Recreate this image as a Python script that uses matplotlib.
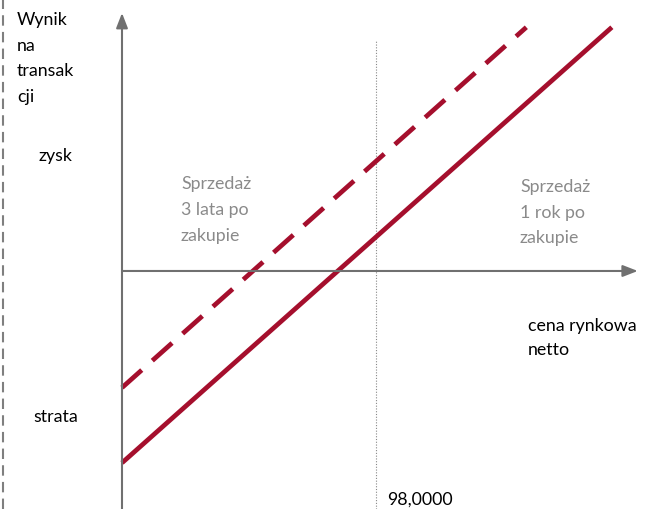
import matplotlib.pyplot as plt
from matplotlib.lines import Line2D

plt.rcParams['font.family'] = ['Lato', 'DejaVu Sans']

# schematic data (price vs. transaction result)
price_1y = [0, 189]
result_1y = [-74, 94]
price_3y = [0, 156]
result_3y = [-45, 94]
breakeven_price = 98

y_label = "Wynik\nna\ntransak\ncji"
x_label = "cena rynkowa\nnetto"
label_3y = "Sprzedaż\n3 lata po\nzakupie"
label_1y = "Sprzedaż\n1 rok po\nzakupie"
price_label = "98,0000"

red = "#a50f2d"
axis_gray = "#707070"
text_gray = "#8a8a8a"

fig = plt.figure(figsize=(6.61, 5.10), dpi=100)
ax = fig.add_axes([0, 0, 1, 1])
ax.set_xlim(-47.07, 207.96)
ax.set_ylim(-91.8, 104.9)
ax.axis("off")

# axes arrows
ax.annotate("", xy=(0, 99.5), xytext=(0, -91.8),
            arrowprops=dict(arrowstyle="-|>,head_length=0.9,head_width=0.35",
                            color=axis_gray, lw=1.5, shrinkA=0, shrinkB=0))
ax.annotate("", xy=(199, 0), xytext=(0, 0),
            arrowprops=dict(arrowstyle="-|>,head_length=0.9,head_width=0.35",
                            color=axis_gray, lw=1.5, shrinkA=0, shrinkB=0))

# break-even price marker
ax.plot([breakeven_price, breakeven_price], [-91.8, 88.7], color="#888888",
        lw=0.8, ls=(0, (1, 1.5)))

# result lines
ax.plot(price_1y, result_1y, color=red, lw=3.4, solid_capstyle="butt")
ax.plot(price_3y, result_3y, color=red, lw=3.4, dashes=(5.6, 3.0),
        dash_capstyle="butt")

# left dashed border
fig.add_artist(Line2D([3 / 661, 3 / 661], [0, 1], transform=fig.transFigure,
                      color="#7f7f7f", lw=1.5, dashes=(5, 3)))

def ftext(x, y, s, **kw):
    fig.text(x / 661, 1 - y / 510, s, **kw)

fs = 12.8
ls = 1.75
ftext(17, 12, y_label, fontsize=fs, va="top", linespacing=ls)
ftext(39, 161, "zysk", fontsize=fs, va="baseline")
ftext(33, 422, "strata", fontsize=fs, va="baseline")
ftext(387, 505, price_label, fontsize=fs, va="baseline")
ftext(181, 176, label_3y, fontsize=fs, va="top", linespacing=ls, color=text_gray)
ftext(520, 179, label_1y, fontsize=fs, va="top", linespacing=ls, color=text_gray)
ftext(528, 318, x_label, fontsize=fs, va="top", linespacing=1.65)

fig.savefig("out.png", dpi=100)
